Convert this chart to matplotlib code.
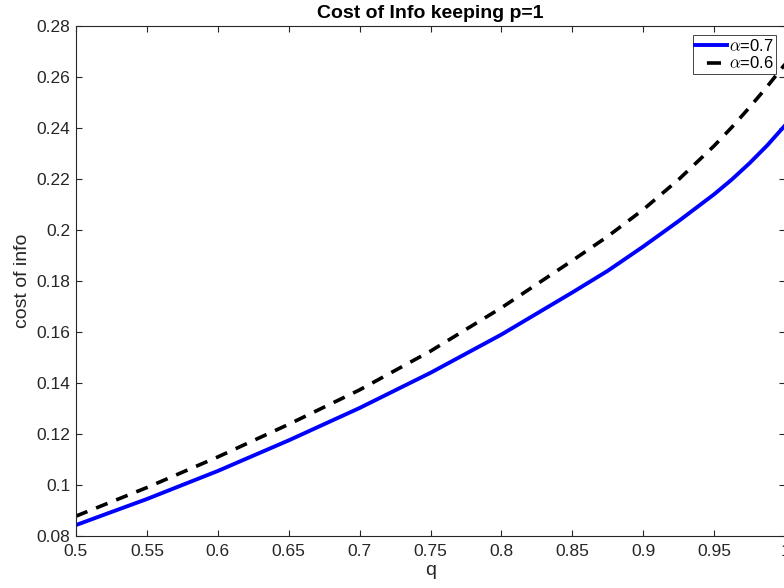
import matplotlib
matplotlib.use("Agg")
import matplotlib.pyplot as plt

plt.rcParams['font.family'] = ['Liberation Sans', 'DejaVu Sans']
plt.rcParams['mathtext.fontset'] = 'cm'

# values
q = [0.5, 0.55, 0.6, 0.65, 0.7, 0.75, 0.8, 0.85, 0.875, 0.9, 0.925, 0.95, 0.9625, 0.975, 0.9875, 1.0]
cost_a07 = [0.0843, 0.0945, 0.1055, 0.1175, 0.1302, 0.1440, 0.1590, 0.1755, 0.1840, 0.1935,
            0.2035, 0.2140, 0.2198, 0.2262, 0.2332, 0.2410]
cost_a06 = [0.0878, 0.0990, 0.1110, 0.1238, 0.1373, 0.1525, 0.1695, 0.1880, 0.1975, 0.2080,
            0.2198, 0.2330, 0.2403, 0.2481, 0.2563, 0.2650]
labels = [r'$\alpha$=0.7', r'$\alpha$=0.6']

xticks = [0.5, 0.55, 0.6, 0.65, 0.7, 0.75, 0.8, 0.85, 0.9, 0.95, 1.0]
xtick_labels = ['0.5', '0.55', '0.6', '0.65', '0.7', '0.75', '0.8', '0.85', '0.9', '0.95', '1']
yticks = [0.08, 0.1, 0.12, 0.14, 0.16, 0.18, 0.2, 0.22, 0.24, 0.26, 0.28]
ytick_labels = ['0.08', '0.1', '0.12', '0.14', '0.16', '0.18', '0.2', '0.22', '0.24', '0.26', '0.28']

fig = plt.figure(figsize=(7.84, 5.88), dpi=100)
ax = fig.add_axes([76/784, 52/588, 709/784, 510/588])

ax.plot(q, cost_a07, color='#0000ff', lw=2.8, label=labels[0])
ax.plot(q, cost_a06, color='black', lw=2.6, dashes=(3.4, 2.6), label=labels[1])

ax.set_xlim(0.5, 1.0)
ax.set_ylim(0.08, 0.28)
ax.set_xticks(xticks)
ax.set_xticklabels(xtick_labels)
ax.set_yticks(yticks)
ax.set_yticklabels(ytick_labels)
ax.tick_params(axis='both', direction='in', top=True, right=True, length=4.5,
               labelsize=12.5, colors='#262626', width=0.8)
ax.tick_params(axis='x', pad=6)
ax.tick_params(axis='y', pad=4)
for s in ax.spines.values():
    s.set_color('#262626')
    s.set_linewidth(0.8)

ax.set_xlabel('q', fontsize=14, color='#262626', labelpad=2)
ax.set_ylabel('cost of info', fontsize=14, color='#262626', labelpad=4)
ax.set_title('Cost of Info keeping p=1', fontsize=14, fontweight='bold', pad=5.5)

leg = ax.legend(loc='upper right', fontsize=12, handlelength=1.9, handletextpad=0.1,
                borderpad=0.15, labelspacing=0.1, fancybox=False, framealpha=1,
                borderaxespad=0.55)
leg.get_frame().set_edgecolor('#262626')
leg.get_frame().set_linewidth(0.6)
# single centred dash in the legend sample, as in the reference
leg.get_lines()[1].set_linestyle((0, (0.0, 3.3, 3.9, 20)))

fig.savefig('out.png', dpi=100)
